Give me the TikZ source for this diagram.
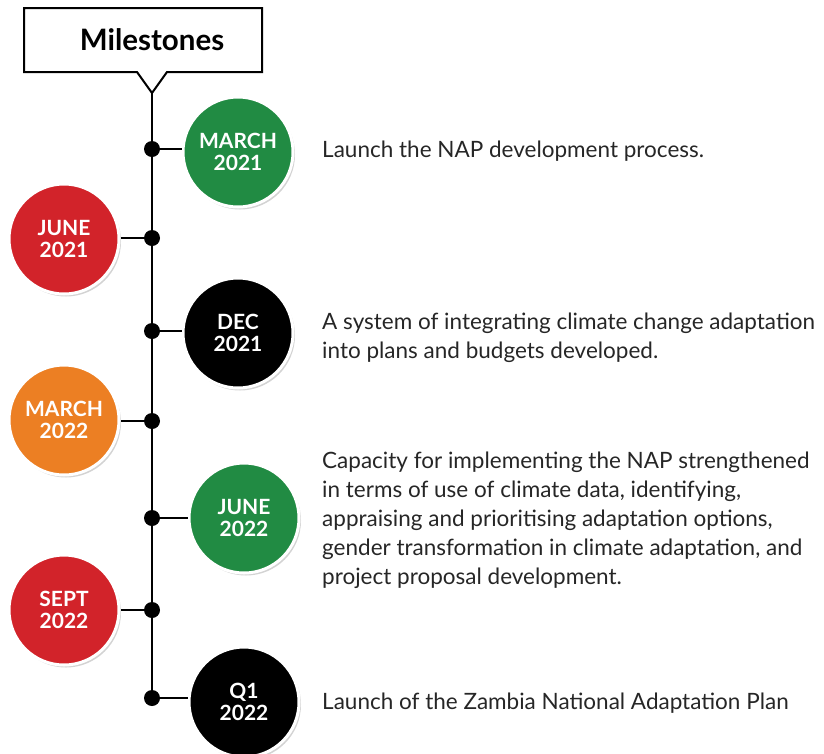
\documentclass[tikz,border=0pt]{standalone}
\usepackage{fontspec}
\setmainfont{Lato}
\usetikzlibrary{shadows,positioning}

\definecolor{msgreen}{RGB}{33,139,67}
\definecolor{msred}{RGB}{210,35,42}
\definecolor{msorange}{RGB}{236,127,35}

\begin{document}
\begin{tikzpicture}[x=1pt,y=-1pt]
\tikzset{
    date/.style={circle, minimum size=110pt, inner sep=0pt, draw=white, line width=3pt,
        text=white, align=center, font=\bfseries\fontsize{21}{22}\selectfont,
        drop shadow={opacity=0.35, shadow xshift=2pt, shadow yshift=-2.5pt}},
    knot/.style={circle, fill=black, minimum size=16pt, inner sep=0pt},
    stem/.style={line width=2pt, black},
    note/.style={anchor=west, align=left, inner sep=0pt, text=black!85,
        font=\fontsize{22.5}{29}\selectfont}}
\def\xline{152}
\def\xleft{64}
\def\xright{238}
\def\xnote{322}

\useasboundingbox (0,0) rectangle (824,753);

% header with pointer
\coordinate (tip) at (\xline,93);
\draw[line width=2pt, fill=white] (24,8) -- (262,8) -- (262,72) -- (167,72) -- (tip)
    -- (137,72) -- (24,72) -- cycle;
\node[font=\bfseries\fontsize{29.5}{32}\selectfont] (title) at (152,40) {Milestones};

% dots on the line
\foreach \n/\y in {1/149,2/238,3/331,4/421,5/518,6/610,7/698}
    \node[knot] (d\n) at (\xline,\y) {};

\draw[stem] (tip) -- (d7.center);

% dates
\node[date, fill=msgreen]  (c1) at (\xright,152) {MARCH\\2021};
\node[date, fill=msred]    (c2) at (\xleft,239) {JUNE\\2021};
\node[date, fill=black]    (c3) at (\xright,333) {DEC\\2021};
\node[date, fill=msorange] (c4) at (\xleft,420) {MARCH\\2022};
\node[date, fill=msgreen]  (c5) at (\xright+6,518) {JUNE\\2022};
\node[date, fill=msred]    (c6) at (\xleft,610) {SEPT\\2022};
\node[date, fill=black]    (c7) at (\xright+6,702) {Q1\\2022};

\foreach \n/\s in {1/west,3/west,5/west,7/west,2/east,4/east,6/east}
    \draw[stem] (d\n.center) -- (d\n -| c\n.\s);

% notes
\node[note] (t1) at (\xnote,151) {Launch the NAP development process.};
\node[note] (t3) at (\xnote,338) {A system of integrating climate change adaptation\\into plans and budgets developed.};
\node[note] (t5) at (\xnote,520) {Capacity for implementing the NAP strengthened\\in terms of use of climate data, identifying,\\appraising and prioritising adaptation options,\\gender transformation in climate adaptation, and\\project proposal development.};
\node[note] (t7) at (\xnote,703) {Launch of the Zambia National Adaptation Plan};
\end{tikzpicture}
\end{document}
